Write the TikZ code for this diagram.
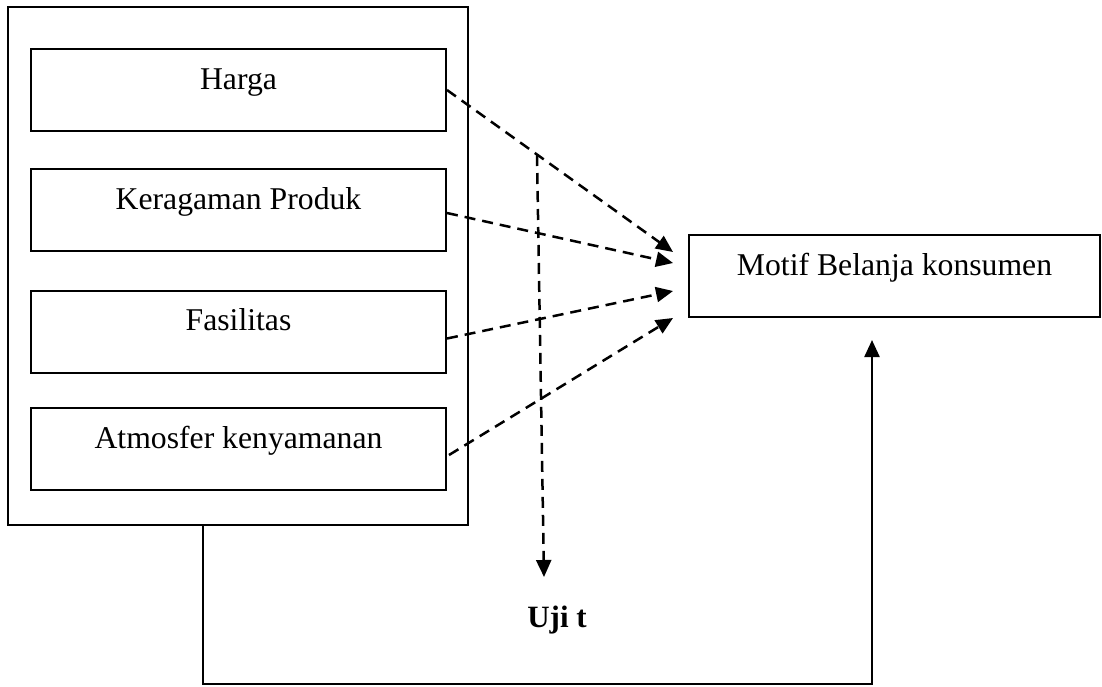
\documentclass[tikz,border=0pt]{standalone}
\usepackage{fontspec}
\setmainfont{Liberation Serif}
\usetikzlibrary{arrows.meta,calc}
\begin{document}
\begin{tikzpicture}[x=1pt,y=-1pt,
  box/.style={draw,line width=2pt,inner sep=0pt,minimum width=415pt,
    text height=40pt,text depth=42pt,align=center,font=\fontsize{31.7}{38}\selectfont},
  dasharrow/.style={line width=2.5pt,dash pattern=on 11pt off 7pt,
    -{Triangle[length=17pt,width=15pt]}},
  solidarrow/.style={line width=2.4pt,-{Triangle[length=17pt,width=15pt]}}]
\useasboundingbox (0,0) rectangle (1102,686);
\node[draw,line width=2pt,minimum width=460pt,minimum height=518pt,inner sep=0pt] (outer) at (238,266) {};
\node[box] (harga) at (238.5,90) {Harga};
\node[box] (ragam) at (238.5,210) {Keragaman Produk};
\node[box] (fas) at (238.5,331.5) {Fasilitas};
\node[box] (atm) at (238.5,449) {Atmosfer kenyamanan};
\node[box,minimum width=411pt] (motif) at (894.5,276) {Motif Belanja konsumen};
\node[font=\bfseries\fontsize{31}{37}\selectfont,inner sep=0pt,anchor=base] (uji) at (557,627) {Uji t};
\coordinate (t1) at (673,252);
\coordinate (t2) at (673,263);
\coordinate (t3) at (673,291);
\coordinate (t4) at (673,318);
\coordinate (ujistart) at (537,155);
\coordinate (ujiend) at (544,577);
\coordinate (bl) at (203,684);
\coordinate (br) at (872,684);
\coordinate (mtarget) at (872,340);
\draw[dasharrow] (harga.east) -- (t1);
\draw[dasharrow] ($(ragam.east)+(0,3)$) -- (t2);
\draw[dasharrow] ($(fas.east)+(0,7)$) -- (t3);
\draw[dasharrow] ($(atm.east)+(2,6)$) -- (t4);
\draw[dasharrow] (ujistart) -- (ujiend);
\draw[solidarrow] (outer.south -| bl) -- (bl) -- (br) -- (mtarget);
\end{tikzpicture}
\end{document}
